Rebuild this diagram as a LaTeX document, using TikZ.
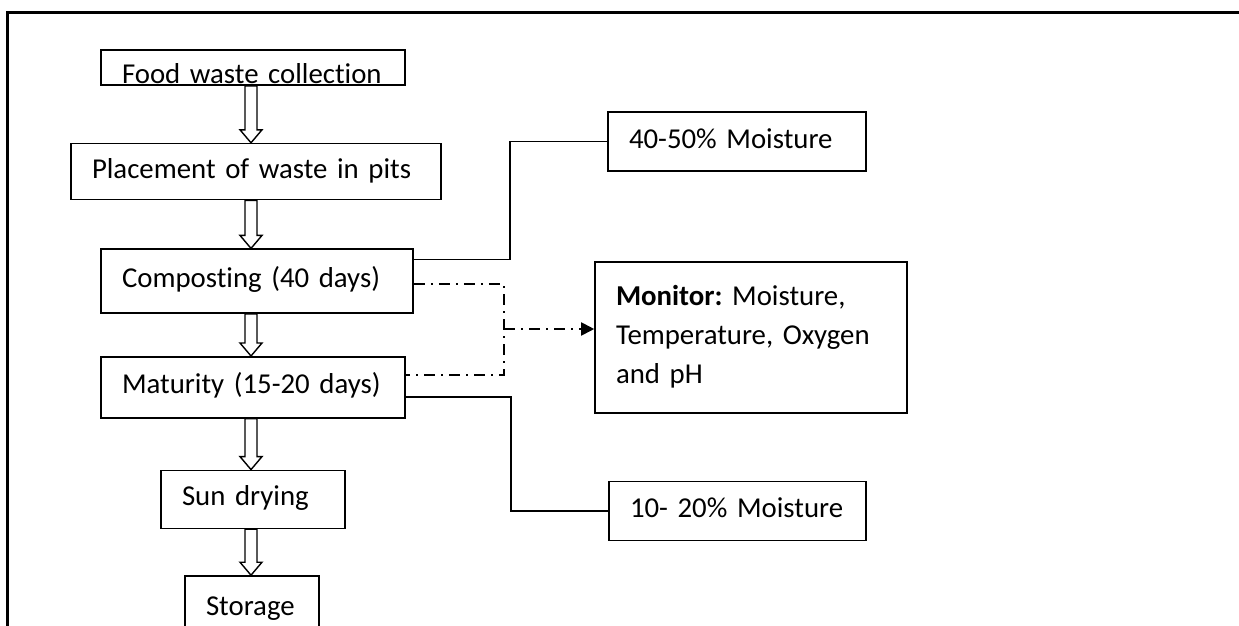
\documentclass[tikz,border=0pt]{standalone}
\usepackage{fontspec}
\setmainfont{Carlito}[Ligatures=NoCommon]
\usetikzlibrary{positioning,calc,arrows.meta}

\tikzset{
  stepbox/.style={draw, line width=1.6pt, align=left, inner xsep=21pt,
    text height=19pt, text depth=6pt, font=\fontsize{28.8}{39}\selectfont\frenchspacing},
  link/.style={line width=1.6pt},
  dashdot/.style={line width=1.9pt, dash pattern=on 11pt off 6pt on 2pt off 6pt},
  blockarrow/.style={line width=1.4pt, fill=white, line join=miter},
  frame/.style={line width=3pt}
}

\newcommand{\hollowarrow}[2]{%
  \draw[blockarrow] let \p1=(#1.south -| spine), \p2=(#2.north -| spine) in
    (\x1-6pt,\y1) -- (\x1-6pt,\y2+13pt) -- (\x1-11pt,\y2+13pt) -- (\x2,\y2)
    -- (\x1+11pt,\y2+13pt) -- (\x1+6pt,\y2+13pt) -- (\x1+6pt,\y1) -- cycle;}

\begin{document}
\begin{tikzpicture}[x=1pt, y=-1pt]
	\clip (0,0) rectangle (1239,626);
	\draw[frame] (7,640) -- (7,13) -- (1250,13);
	\coordinate (spine) at (251,0);
	% Define nodes
	\node[stepbox, text width=262pt, text height=31pt, text depth=0pt, inner ysep=2pt] (collect) at (253,67.5) {Food waste collection};
	\node[stepbox, text width=328pt, minimum height=56pt, below=57pt of collect, xshift=3pt] (place) {Placement of waste in pits};
	\node[stepbox, text width=270pt, minimum height=64pt, below=48pt of place, xshift=1pt] (compost) {Composting (40 days)};
	\node[stepbox, text width=262pt, minimum height=61pt, below=42pt of compost, xshift=-4pt] (mature) {Maturity (15-20 days)};
	\node[stepbox, text width=142pt, minimum height=58pt, below=51pt of mature] (sundry) {Sun drying};
	\node[stepbox, text width=92pt, text height=20pt, text depth=30pt, inner ysep=19pt, below=46pt of sundry, xshift=-1pt] (store) {Storage};
	\node[stepbox, text width=216pt, minimum height=59pt] (moist40) at (737,141.5) {40-50\% Moisture};
	\node[stepbox, text width=270pt, minimum height=151pt, text depth=84pt] (monitor) at (751,337.5) {\textbf{Monitor:} Moisture, Temperature, Oxygen and pH};
	\node[stepbox, text width=215pt, minimum height=59pt] (moist10) at (737.5,511) {10- 20\% Moisture};
	\coordinate (junc) at (504,329);
	% Flow
	\hollowarrow{collect}{place}
	\hollowarrow{place}{compost}
	\hollowarrow{compost}{mature}
	\hollowarrow{mature}{sundry}
	\hollowarrow{sundry}{store}
	% Side links
	\draw[link] ([yshift=-11pt]compost.north east) -| ([xshift=-97pt]moist40.west) -- (moist40.west);
	\draw[link] ([yshift=-41pt]mature.north east) -| ([xshift=-97pt]moist10.west) -- (moist10.west);
	\draw[dashdot] ([yshift=-36pt]compost.north east) -| (junc) |- ([yshift=-19pt]mature.north east);
	\draw[dashdot, -{Triangle[length=13pt,width=13pt]}] (junc) -- (monitor.west |- junc);
\end{tikzpicture}
\end{document}
